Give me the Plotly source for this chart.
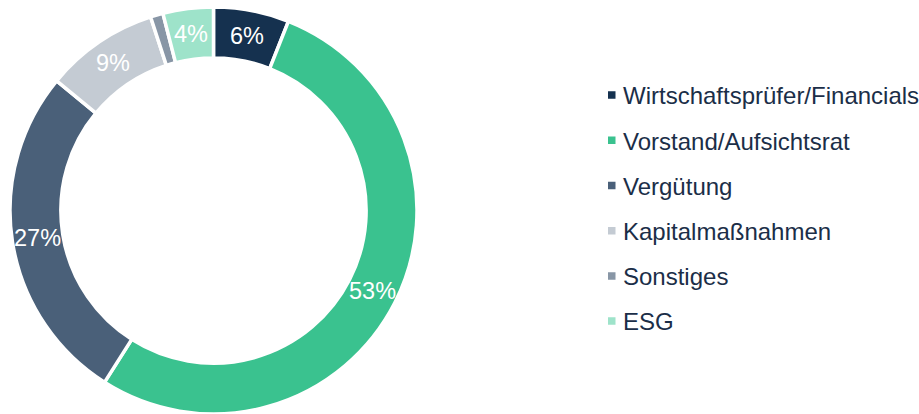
import math
import plotly.graph_objects as go

categories = ["Wirtschaftsprüfer/Financials", "Vorstand/Aufsichtsrat", "Vergütung",
              "Kapitalmaßnahmen", "Sonstiges", "ESG"]
values = [6, 53, 27, 9, 1, 4]
slice_labels = ["6%", "53%", "27%", "9%", "", "4%"]
colors = ["#15314f", "#3ac28f", "#4a6079", "#c4cbd3", "#8896a6", "#9ee3ca"]

W, H = 919, 414
FONT = "Liberation Sans, Arial, sans-serif"
HOLE = 0.75
DX = [10 / W, 417 / W]
DY = [0, 1 - 7 / H]

fig = go.Figure()
fig.add_trace(go.Pie(
    labels=categories, values=values,
    textinfo="none",
    marker=dict(colors=colors, line=dict(color="white", width=3.5)),
    hole=HOLE, sort=False, direction="clockwise", rotation=0,
    domain=dict(x=DX, y=DY),
    showlegend=False,
))

# percentage labels at the middle of each ring segment (from the pie geometry)
r_px = min((DX[1] - DX[0]) * W, (DY[1] - DY[0]) * H) / 2
cx = (DX[0] + DX[1]) / 2 * W
cy = (1 - (DY[0] + DY[1]) / 2) * H
r_lab = r_px * (1 + HOLE) / 2
total = sum(values)
cum = 0
for v, lab in zip(values, slice_labels):
    mid = (cum + v / 2) / total * 2 * math.pi
    cum += v
    if not lab:
        continue
    px = cx + r_lab * math.sin(mid)
    py = cy - r_lab * math.cos(mid)
    fig.add_annotation(x=px / W, y=1 - py / H, xref="paper", yref="paper",
                       text=lab, showarrow=False, xanchor="center", yanchor="middle",
                       font=dict(family=FONT, size=23.5, color="white"))

for name, col in zip(categories, colors):
    fig.add_trace(go.Scatter(
        x=[None], y=[None], mode="lines", name=name, legendgroup=name,
        line=dict(color=col, width=7.5, dash="0px,20px,7.5px,200px"),
        showlegend=True,
    ))

fig.update_layout(
    width=W, height=H,
    margin=dict(l=0, r=0, t=0, b=0, autoexpand=False),
    paper_bgcolor="white", plot_bgcolor="white",
    xaxis=dict(visible=False), yaxis=dict(visible=False),
    legend=dict(
        x=583 / W, xanchor="left", y=1 - 73 / H, yanchor="top",
        font=dict(family=FONT, size=24, color="#1b2e48"),
        tracegroupgap=11, bgcolor="rgba(0,0,0,0)",
    ),
    font=dict(family=FONT),
)
fig.write_html("out.html", config={"displayModeBar": False},
               post_script="document.body.style.margin='0';")
